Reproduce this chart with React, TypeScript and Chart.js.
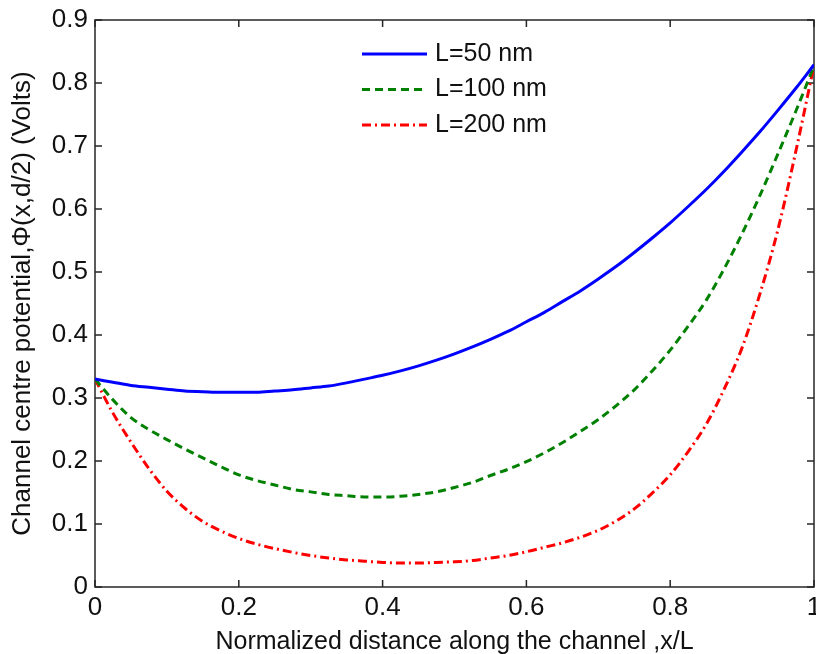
import React, { useEffect, useRef } from "react";
import { Chart, registerables } from "chart.js";

Chart.register(...registerables);

// Normalized position along the channel (x/L)
const xPositions = [
  0, 0.025, 0.05, 0.075, 0.1, 0.125, 0.15, 0.175, 0.2, 0.225, 0.25, 0.275, 0.3, 0.325, 0.35, 0.375,
  0.4, 0.425, 0.45, 0.475, 0.5, 0.525, 0.55, 0.575, 0.6, 0.625, 0.65, 0.675, 0.7, 0.725, 0.75, 0.775,
  0.8, 0.825, 0.85, 0.875, 0.9, 0.925, 0.95, 0.975, 1.0,
];

// Channel centre potential (Volts)
const potentialL50 = [
  0.330, 0.325, 0.320, 0.317, 0.314, 0.311, 0.310, 0.309, 0.309, 0.309, 0.311, 0.313, 0.316, 0.319, 0.324, 0.330,
  0.336, 0.343, 0.351, 0.360, 0.370, 0.381, 0.393, 0.406, 0.421, 0.436, 0.453, 0.470, 0.489, 0.509, 0.531, 0.554,
  0.578, 0.604, 0.631, 0.660, 0.691, 0.723, 0.757, 0.792, 0.829,
];
const potentialL100 = [
  0.330, 0.297, 0.269, 0.250, 0.234, 0.219, 0.205, 0.191, 0.178, 0.169, 0.162, 0.155, 0.151, 0.147, 0.145, 0.143,
  0.143, 0.144, 0.147, 0.151, 0.158, 0.166, 0.177, 0.187, 0.199, 0.213, 0.229, 0.247, 0.266, 0.288, 0.313, 0.343,
  0.376, 0.414, 0.455, 0.505, 0.561, 0.622, 0.688, 0.756, 0.827,
];
const potentialL200 = [
  0.330, 0.276, 0.230, 0.188, 0.152, 0.125, 0.104, 0.089, 0.077, 0.068, 0.061, 0.055, 0.050, 0.046, 0.043, 0.041,
  0.039, 0.038, 0.038, 0.039, 0.040, 0.042, 0.046, 0.050, 0.056, 0.063, 0.070, 0.079, 0.090, 0.105, 0.124, 0.149,
  0.178, 0.215, 0.258, 0.314, 0.380, 0.466, 0.568, 0.693, 0.828,
];

const seriesLabels = ["L=50 nm", "L=100 nm", "L=200 nm"];
const xTitle = "Normalized distance along the channel ,x/L";
const yTitle = "Channel centre potential,\u03A6(x,d/2) (Volts)";

const FONT = '"Liberation Sans", Arial, sans-serif';
const TEXT_COLOR = "#111111";
const AXIS_COLOR = "#262626";

const toPoints = (ys: number[]) => xPositions.map((x, i) => ({ x, y: ys[i] }));

const fmt = (v: number) => {
  const r = Math.round(v * 10) / 10;
  if (r === 0) return "0";
  if (r === 1) return "1";
  return r.toFixed(1);
};

const framePlugin = {
  id: "frameTicks",
  beforeDatasetsDraw(chart: any) {
    const { ctx, chartArea, scales } = chart;
    const { left, right, top, bottom } = chartArea;
    const tl = 7;
    ctx.save();
    ctx.strokeStyle = AXIS_COLOR;
    ctx.lineWidth = 1.5;
    ctx.setLineDash([]);
    ctx.strokeRect(left, top, right - left, bottom - top);
    ctx.beginPath();
    scales.x.ticks.forEach((t: any) => {
      const px = scales.x.getPixelForValue(t.value);
      ctx.moveTo(px, bottom);
      ctx.lineTo(px, bottom - tl);
      ctx.moveTo(px, top);
      ctx.lineTo(px, top + tl);
    });
    scales.y.ticks.forEach((t: any) => {
      const py = scales.y.getPixelForValue(t.value);
      ctx.moveTo(left, py);
      ctx.lineTo(left + tl, py);
      ctx.moveTo(right, py);
      ctx.lineTo(right - tl, py);
    });
    ctx.stroke();
    ctx.restore();
  },
};

const legendPlugin = {
  id: "innerLegend",
  afterDatasetsDraw(chart: any) {
    const { ctx, chartArea } = chart;
    const { left, top } = chartArea;
    chart.data.datasets.forEach((ds: any, i: number) => {
      const y = top + 34 + i * 35.5;
      ctx.save();
      ctx.strokeStyle = ds.borderColor;
      ctx.lineWidth = ds.borderWidth;
      ctx.setLineDash(ds.borderDash || []);
      ctx.beginPath();
      ctx.moveTo(left + 267, y);
      ctx.lineTo(left + 332, y);
      ctx.stroke();
      ctx.setLineDash([]);
      ctx.fillStyle = TEXT_COLOR;
      ctx.font = `25px ${FONT}`;
      ctx.textBaseline = "middle";
      ctx.textAlign = "left";
      ctx.fillText(ds.label, left + 340, y);
      ctx.restore();
    });
  },
};

export default function App() {
  const canvasRef = useRef<HTMLCanvasElement | null>(null);

  useEffect(() => {
    const canvas = canvasRef.current;
    if (!canvas) return;
    const chart = new Chart(canvas, {
      type: "line",
      data: {
        datasets: [
          {
            label: seriesLabels[0],
            data: toPoints(potentialL50),
            borderColor: "#0000ff",
            borderWidth: 3,
            pointRadius: 0,
            cubicInterpolationMode: "monotone",
            fill: false,
          },
          {
            label: seriesLabels[1],
            data: toPoints(potentialL100),
            borderColor: "#008000",
            borderWidth: 3,
            borderDash: [8, 5],
            pointRadius: 0,
            cubicInterpolationMode: "monotone",
            fill: false,
          },
          {
            label: seriesLabels[2],
            data: toPoints(potentialL200),
            borderColor: "#ff0000",
            borderWidth: 3,
            borderDash: [9, 4, 2, 4],
            pointRadius: 0,
            cubicInterpolationMode: "monotone",
            fill: false,
          },
        ],
      },
      options: {
        responsive: false,
        animation: false,
        devicePixelRatio: 1,
        layout: { padding: { top: 20, right: 2, left: 0, bottom: 0 } },
        plugins: {
          legend: { display: false },
          tooltip: { enabled: false },
        },
        scales: {
          x: {
            type: "linear",
            min: 0,
            max: 1,
            grid: { display: false, drawTicks: false },
            border: { display: false },
            ticks: {
              stepSize: 0.2,
              maxRotation: 0,
              autoSkip: false,
              padding: 5,
              color: TEXT_COLOR,
              font: { family: FONT, size: 26 },
              callback: (v: any) => fmt(Number(v)),
            },
            title: {
              display: true,
              text: xTitle,
              color: TEXT_COLOR,
              font: { family: FONT, size: 25 },
              padding: { top: 0, bottom: -3 },
            },
            afterFit: (s: any) => {
              s.height = 67;
              s.paddingLeft = 0;
              s.paddingRight = 0;
            },
          },
          y: {
            type: "linear",
            min: 0,
            max: 0.9,
            grid: { display: false, drawTicks: false },
            border: { display: false },
            ticks: {
              stepSize: 0.1,
              padding: 7,
              color: TEXT_COLOR,
              font: { family: FONT, size: 26 },
              callback: (v: any) => fmt(Number(v)),
            },
            title: {
              display: true,
              text: yTitle,
              color: TEXT_COLOR,
              font: { family: FONT, size: 26 },
              padding: { top: 7, bottom: 0 },
            },
            afterFit: (s: any) => {
              s.width = 95;
              s.paddingTop = 0;
              s.paddingBottom = 0;
            },
          },
        },
      },
      plugins: [framePlugin, legendPlugin],
    } as any);
    return () => chart.destroy();
  }, []);

  return (
    <div style={{ position: "fixed", left: 0, top: 0, width: 816, height: 654, background: "#ffffff" }}>
      <canvas ref={canvasRef} width={816} height={654} style={{ width: 816, height: 654, display: "block" }} />
    </div>
  );
}
